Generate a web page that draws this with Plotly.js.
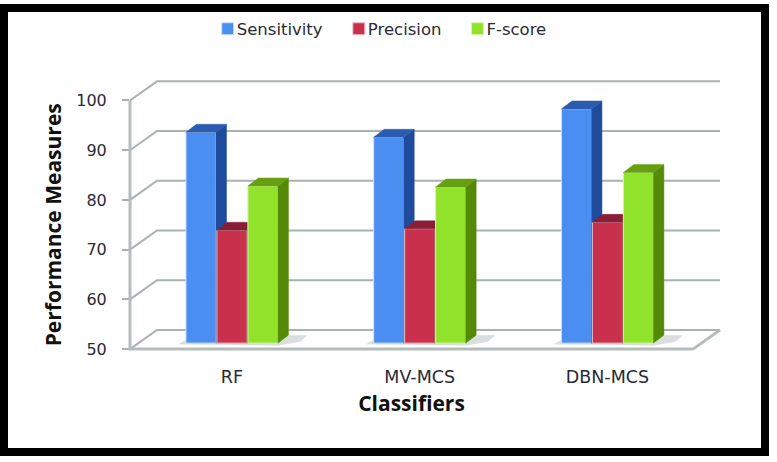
<!DOCTYPE html>
<html><head><meta charset="utf-8">
<script src="https://cdn.plot.ly/plotly-3.0.1.min.js"></script>
<style>
html,body{margin:0;padding:0;background:#fff;width:777px;height:462px;overflow:hidden}
#chart{position:absolute;left:0;top:0;width:777px;height:462px}
#frame{position:absolute;left:0;top:4px;width:753px;height:436px;border:8px solid #000;pointer-events:none}
</style></head><body>
<div id="chart"></div><div id="frame"></div>
<script>
const categories = ["RF", "MV-MCS", "DBN-MCS"];
const sensitivity = [92.4, 91.4, 97.1];
const precision = [72.7, 73.0, 74.3];
const fscore = [81.6, 81.4, 84.3];
const yTicks = [50, 60, 70, 80, 90, 100];

const seriesNames = ["Sensitivity", "Precision", "F-score"];
const seriesValues = [sensitivity, precision, fscore];
const frontColors = ["#4a8ef2", "#c8304c", "#90e22a"];
const sideColors = ["#1e4b9c", "#8a1e36", "#558a08"];
const topColors = ["#2c5cb0", "#8a1e36", "#66a010"];
const edgeColors = ["#cfe3ff", "#f0c0cc", "#dcf5b0"];

// projection of the pseudo-3D chart, in axis units
const X0 = -0.543, X1 = 2.456;
const wallDx = 0.1438, wallDy = 3.85;
const barW = 0.160, barStep = 0.165;
const barDx = 0.056, barDy = 1.6;
const baseLift = 1.2;
const barBase = 50 + baseLift;
const cats = categories.map((_, i) => i);

// plot box: the main axes hold the front plane, the drawing axes the whole box
const boxW = 600, boxH = 284, pad = 5;
const pxX = 563 / (X1 - X0), pxY = 254 / 50;
const drawXRange = [X0 - pad / pxX, X0 + (boxW - pad) / pxX];
const drawYRange = [50 - pad / pxY, 50 + (boxH - pad) / pxY];

const traces = [];
const grey = "#a9b2b2";
// carries the visible axes (ticks, labels, titles)
traces.push({type:"scatter", mode:"markers", x:[X0, X1], y:[50, 100], xaxis:"x", yaxis:"y", marker:{opacity:0}, showlegend:false, hoverinfo:"skip"});
// walls and floor
const gx = [], gy = [];
yTicks.forEach(v => { gx.push(X0, X0 + wallDx, X1 + wallDx, null); gy.push(v, v + wallDy, v + wallDy, null); });
traces.push({type:"scatter", mode:"lines", x:gx, y:gy, xaxis:"x2", yaxis:"y2", showlegend:false, hoverinfo:"skip", line:{color:grey, width:2}});
traces.push({type:"scatter", mode:"lines", x:[X0, X0, X1, X1 + wallDx], y:[100, 50, 50, 50 + wallDy], xaxis:"x2", yaxis:"y2", showlegend:false, hoverinfo:"skip", line:{color:"#b4bcbc", width:3}});
// floor shadows
cats.forEach(c => {
  const l = c - 1.5 * barStep, r = c + 1.5 * barStep;
  traces.push({type:"scatter", mode:"lines", x:[l - 0.04, l, r, r + barDx, r + barDx + 0.1, r + barDx + 0.06, r], y:[barBase - 0.2, barBase + 0.6, barBase, barBase + barDy, barBase + barDy, barBase + 0.3, barBase - 0.5],
    fill:"toself", fillcolor:"rgba(150,160,160,0.35)", line:{width:0}, xaxis:"x2", yaxis:"y2", showlegend:false, hoverinfo:"skip"});
});

seriesNames.forEach((name, s) => {
  const suffix = s + 3;
  const xa = "x" + suffix, ya = "y" + suffix;
  const vals = seriesValues[s];
  const centers = cats.map(c => c + (s - 1) * barStep);
  traces.push({type:"bar", name:name, x:centers, y:vals.map(v => v - 50), base:barBase, width:barW, xaxis:xa, yaxis:ya,
    marker:{color:frontColors[s], line:{color:edgeColors[s], width:1}}, hoverinfo:"skip"});
  vals.forEach((v, i) => {
    const top = v + baseLift, r = centers[i] + barW / 2, l = centers[i] - barW / 2;
    traces.push({type:"scatter", mode:"lines", x:[r, r + barDx, r + barDx, r, r], y:[top, top + barDy, barBase + barDy, barBase, top],
      fill:"toself", fillcolor:sideColors[s], line:{color:sideColors[s], width:0.5}, xaxis:xa, yaxis:ya, showlegend:false, hoverinfo:"skip"});
    traces.push({type:"scatter", mode:"lines", x:[l, l + barDx, r + barDx, r, l], y:[top, top + barDy, top + barDy, top, top],
      fill:"toself", fillcolor:topColors[s], line:{color:topColors[s], width:0.5}, xaxis:xa, yaxis:ya, showlegend:false, hoverinfo:"skip"});
  });
});

const txt = "#2a2a33";
const titleFont = {family:"Open Sans", size:21, color:"#111", weight:700};
const layout = {
  width:777, height:462, margin:{l:125, r:52, t:70, b:108},
  paper_bgcolor:"#fff", plot_bgcolor:"rgba(0,0,0,0)", font:{family:"DejaVu Sans", color:txt, size:15},
  barmode:"overlay", showlegend:true,
  legend:{orientation:"h", x:0.1195, xanchor:"left", y:1.169, yanchor:"middle", font:{size:16.5, family:"DejaVu Sans", color:txt}, bgcolor:"rgba(0,0,0,0)", traceorder:"normal"},
  xaxis:{domain:[pad / boxW, (pad + 563) / boxW], range:[X0, X1], tickmode:"array", tickvals:cats, ticktext:categories, showgrid:false, zeroline:false, showline:false,
    ticks:"outside", ticklen:12, tickcolor:"rgba(0,0,0,0)", tickfont:{size:17.5},
    title:{text:"Classifiers", font:titleFont, standoff:10}},
  yaxis:{domain:[pad / boxH, (pad + 254) / boxH], range:[50, 100], tickmode:"array", tickvals:yTicks, showgrid:false, zeroline:false, showline:false,
    ticks:"outside", ticklen:7, tickwidth:2, tickcolor:grey, tickfont:{size:16}, ticklabelstandoff:12,
    title:{text:"Performance Measures", font:titleFont, standoff:8}},
  xaxis2:{domain:[0, 1], range:drawXRange, anchor:"y2", visible:false, showgrid:false, zeroline:false},
  yaxis2:{domain:[0, 1], range:drawYRange, anchor:"x2", visible:false, showgrid:false, zeroline:false}
};
[3, 4, 5].forEach(n => {
  layout["xaxis" + n] = {range:drawXRange, overlaying:"x2", anchor:"y" + n, visible:false, showgrid:false, zeroline:false};
  layout["yaxis" + n] = {range:drawYRange, overlaying:"y2", anchor:"x" + n, visible:false, showgrid:false, zeroline:false};
});
Plotly.newPlot("chart", traces, layout, {displayModeBar:false, staticPlot:true}).then(() => {
  // the reference keeps its legend swatches close to their labels
  document.querySelectorAll("#chart .legend .legendpoints").forEach(el => {
    const t = el.getAttribute("transform") || "";
    el.setAttribute("transform", "translate(11,0) " + t);
  });
});
</script>
</body></html>
